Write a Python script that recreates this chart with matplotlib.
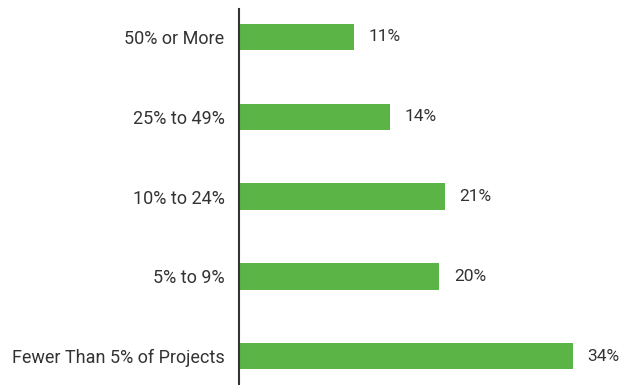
import matplotlib.pyplot as plt

categories = ['Fewer Than 5% of Projects', '5% to 9%', '10% to 24%', '25% to 49%', '50% or More']
values = [34.0, 20.4, 21.0, 15.4, 11.7]
labels = ['34%', '20%', '21%', '14%', '11%']

plt.rcParams['font.family'] = ['Roboto', 'DejaVu Sans']

fig = plt.figure(figsize=(6.22, 3.85), dpi=100)
ax = fig.add_axes([238.5 / 622, 0, 1 - 238.5 / 622, 1 - 9 / 385])

pos = list(range(len(categories)))
ax.barh(pos, values, height=0.33, color='#5bb446')
for p, v, lab in zip(pos, values, labels):
    ax.text(v + 1.5, p, lab, va='center', ha='left', fontsize=12.5, color='#333333')

ax.set_xlim(0, 39)
ax.set_ylim(-0.36, 4.35)
ax.set_yticks(pos)
ax.set_yticklabels(categories, fontsize=13, color='#333333')
ax.tick_params(axis='y', length=0, pad=10)
ax.set_xticks([])
for s in ['top', 'right', 'bottom']:
    ax.spines[s].set_visible(False)
ax.spines['left'].set_color('#333333')
ax.spines['left'].set_linewidth(1.5)

fig.savefig('out.png', dpi=100)
